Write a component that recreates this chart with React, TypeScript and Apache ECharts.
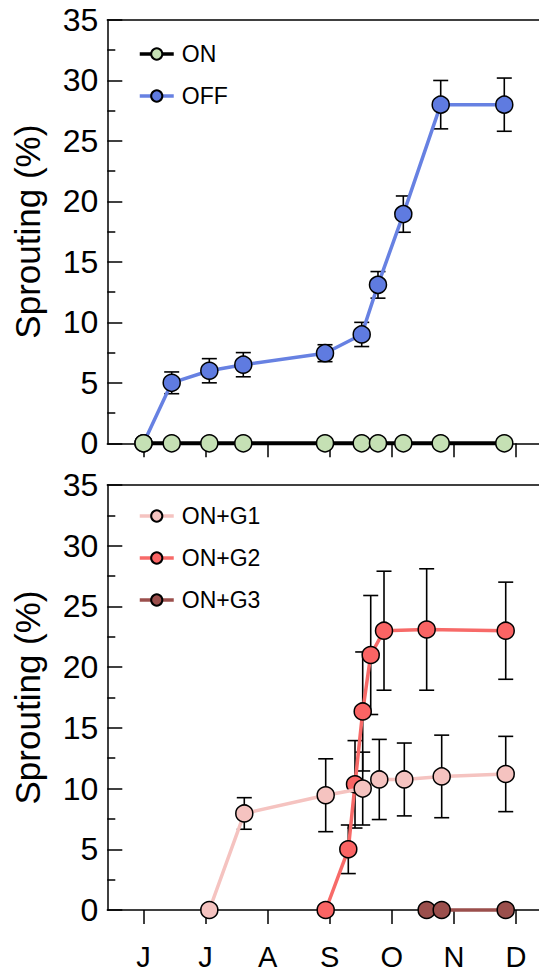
import React, { useEffect, useRef } from "react";
import * as echarts from "echarts";

const monthLabels = ["J", "J", "A", "S", "O", "N", "D"];
const monthTicks = [0, 1, 2, 3, 4, 5, 6];

const onX = [0, 0.454, 1.06, 1.607, 2.923, 3.514, 3.776, 4.184, 4.786, 5.81];
const onY = [0, 0, 0, 0, 0, 0, 0, 0, 0, 0];
const offX = [0, 0.454, 1.06, 1.607, 2.923, 3.514, 3.776, 4.184, 4.786, 5.81];
const offY = [0, 5.0, 6.0, 6.5, 7.45, 9.0, 13.1, 18.95, 28.0, 28.0];
const offErr = [0, 0.9, 1.0, 1.0, 0.7, 1.0, 1.1, 1.5, 2.0, 2.2];

const g1X = [1.06, 1.623, 2.934, 3.53, 3.797, 4.2, 4.802, 5.833];
const g1Y = [0, 7.95, 9.45, 10.0, 10.75, 10.75, 11.0, 11.2];
const g1Err = [0, 1.3, 3.0, 3.0, 3.3, 3.0, 3.4, 3.1];

const g2X = [2.934, 3.298, 3.406, 3.53, 3.659, 3.873, 4.56, 5.833];
const g2Y = [0, 5.0, 10.35, 16.35, 21.0, 23.0, 23.1, 23.0];
const g2Err = [0, 2.0, 3.6, 4.9, 4.9, 4.9, 5.0, 4.0];

const g3X = [4.56, 4.802, 5.833];
const g3Y = [0, 0, 0];

const FONT = "'Liberation Sans', Arial, Helvetica, sans-serif";
const X_MIN = -0.583;
const X_MAX = 6.369;

const pairs = (xs: number[], ys: number[]) => xs.map((x, i) => [x, ys[i]]);
const triples = (xs: number[], ys: number[], es: number[]) =>
  xs.map((x, i) => [x, ys[i], es[i]]).filter((d) => d[2] > 0);

function errRender(params: any, api: any) {
  const x = api.value(0);
  const y = api.value(1);
  const e = api.value(2);
  const top = api.coord([x, y + e]);
  const bot = api.coord([x, y - e]);
  const hw = 7.5;
  const style = { stroke: "#000", lineWidth: 1.6 };
  return {
    type: "group",
    children: [
      { type: "line", shape: { x1: top[0], y1: top[1], x2: bot[0], y2: bot[1] }, style },
      { type: "line", shape: { x1: top[0] - hw, y1: top[1], x2: top[0] + hw, y2: top[1] }, style },
      { type: "line", shape: { x1: bot[0] - hw, y1: bot[1], x2: bot[0] + hw, y2: bot[1] }, style },
    ],
  };
}

function lineSeries(name: string, data: number[][], idx: number, line: string, fill: string, z: number, width: number) {
  return {
    name,
    type: "line",
    xAxisIndex: idx,
    yAxisIndex: idx,
    data,
    symbol: "circle",
    symbolSize: 17,
    z,
    lineStyle: { color: line, width },
    itemStyle: { color: fill, borderColor: "#000", borderWidth: 1.5 },
    clip: false,
  };
}

export default function App() {
  const ref = useRef<HTMLDivElement>(null);
  useEffect(() => {
    if (!ref.current) return;
    const chart = echarts.init(ref.current, null, { renderer: "svg" });
    const xAxisBase = (gridIndex: number, labels: boolean) => ({
      type: "value",
      gridIndex,
      min: X_MIN,
      max: X_MAX,
      position: "bottom",
      splitLine: { show: false },
      axisLine: { show: true, onZero: false, lineStyle: { color: "#000", width: 1.5 } },
      axisTick: {
        show: true,
        inside: false,
        length: 14,
        customValues: monthTicks,
        lineStyle: { color: "#000", width: 1.5 },
      },
      axisLabel: {
        show: labels,
        customValues: monthTicks,
        formatter: (v: number) => monthLabels[Math.round(v)] ?? "",
        fontSize: 29,
        fontFamily: FONT,
        color: "#000",
        margin: 32,
      },
    });
    const xAxisTop = (gridIndex: number) => ({
      type: "value",
      gridIndex,
      min: X_MIN,
      max: X_MAX,
      position: "top",
      splitLine: { show: false },
      axisLine: { show: true, onZero: false, lineStyle: { color: "#000", width: 1.5 } },
      axisTick: { show: false },
      axisLabel: { show: false },
    });
    const yAxis = (gridIndex: number) => ({
      type: "value",
      gridIndex,
      min: 0,
      max: 35,
      interval: 5,
      position: "left",
      name: "Sprouting (%)",
      nameLocation: "middle",
      nameGap: 62,
      nameTextStyle: { fontSize: 35, fontFamily: FONT, color: "#000" },
      splitLine: { show: false },
      axisLine: { show: true, onZero: false, lineStyle: { color: "#000", width: 1.5 } },
      axisTick: { show: true, inside: true, length: 15, lineStyle: { color: "#000", width: 1.5 } },
      minorTick: { show: true, splitNumber: 2, length: 8, lineStyle: { color: "#000", width: 1.5 } },
      axisLabel: { fontSize: 32, fontFamily: FONT, color: "#000", margin: 9 },
    });
    const legendBase = {
      orient: "vertical",
      left: 133,
      itemWidth: 34,
      itemHeight: 14,
      itemGap: 19,
      lineStyle: { width: 3.5 },
      textStyle: {
        fontSize: 23,
        fontFamily: FONT,
        color: "#000",
        lineHeight: 23,
        padding: [0, 0, 0, 3],
      },
      selectedMode: false,
    };
    chart.setOption({
      animation: false,
      backgroundColor: "#fff",
      grid: [
        { left: 107.3, right: 0, top: 20, height: 423.3 },
        { left: 107.3, right: 0, top: 485, height: 425 },
      ],
      legend: [
        { ...legendBase, top: 37.5, data: ["ON", "OFF"] },
        { ...legendBase, top: 499.5, data: ["ON+G1", "ON+G2", "ON+G3"] },
      ],
      xAxis: [xAxisBase(0, false), xAxisBase(1, true), xAxisTop(0), xAxisTop(1)],
      yAxis: [yAxis(0), yAxis(1)],
      series: [
        {
          type: "custom",
          xAxisIndex: 0,
          yAxisIndex: 0,
          renderItem: errRender,
          data: triples(offX, offY, offErr),
          z: 1,
          clip: false,
        },
        lineSeries("OFF", pairs(offX, offY), 0, "#6781e2", "#5f7be0", 2, 3.5),
        lineSeries("ON", pairs(onX, onY), 0, "#000000", "#c5e0b4", 3, 4),
        {
          type: "custom",
          xAxisIndex: 1,
          yAxisIndex: 1,
          renderItem: errRender,
          data: triples(g2X, g2Y, g2Err),
          z: 1,
          clip: false,
        },
        {
          type: "custom",
          xAxisIndex: 1,
          yAxisIndex: 1,
          renderItem: errRender,
          data: triples(g1X, g1Y, g1Err),
          z: 1,
          clip: false,
        },
        lineSeries("ON+G1", pairs(g1X, g1Y), 1, "#f5c3c0", "#f5c3c0", 3, 3.5),
        lineSeries("ON+G2", pairs(g2X, g2Y), 1, "#f76a68", "#fa6464", 2, 3.5),
        lineSeries("ON+G3", pairs(g3X, g3Y), 1, "#9b4f4c", "#9b4f4c", 4, 3.5),
      ],
    });
    return () => chart.dispose();
  }, []);
  return (
    <div
      ref={ref}
      style={{ position: "fixed", left: 0, top: 0, width: 539, height: 971, background: "#fff" }}
    />
  );
}
